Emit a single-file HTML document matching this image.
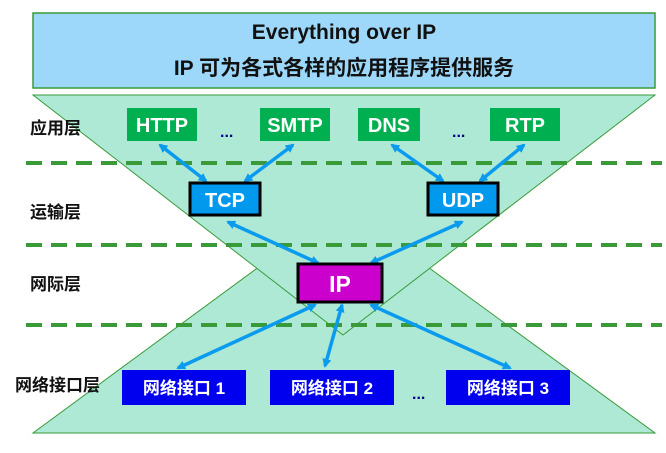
<!DOCTYPE html>
<html><head><meta charset="utf-8"><style>
body{margin:0;background:#fff;}
.t{font-family:"Liberation Sans","Noto Sans CJK SC",sans-serif;font-weight:bold;}
</style></head><body>
<svg width="666" height="448" viewBox="0 0 666 448" xmlns="http://www.w3.org/2000/svg">
<defs>
<marker id="a" markerWidth="9" markerHeight="9" refX="7" refY="4.5" orient="auto-start-reverse" markerUnits="userSpaceOnUse" viewBox="0 0 9 9"><path d="M0,0 L9,4.5 L0,9 z" fill="#0a9aee"/></marker>
</defs>
<rect x="33" y="13" width="622" height="75" fill="#9dd8fa" stroke="#3a9a3a" stroke-width="1.5"/>
<text x="344" y="39" class="t" font-size="21" text-anchor="middle" fill="#111">Everything over IP</text>
<text x="344" y="75" class="t" font-size="21" text-anchor="middle" fill="#111">IP 可为各式各样的应用程序提供服务</text>
<polygon points="33,433 655,433 343,205" fill="#aee9d6" stroke="#3a9a3a" stroke-width="1"/>
<polygon points="33,95 655,95 343,335" fill="#aee9d6" stroke="#3a9a3a" stroke-width="1"/>
<g stroke="#3a9a3a" stroke-width="4" stroke-dasharray="16,9">
<line x1="26" y1="163" x2="662" y2="163"/>
<line x1="26" y1="245" x2="662" y2="245"/>
<line x1="26" y1="325" x2="662" y2="325"/>
</g>
<g class="t" font-size="17" fill="#111">
<text x="30" y="134">应用层</text>
<text x="30" y="218">运输层</text>
<text x="30" y="290">网际层</text>
<text x="15" y="391">网络接口层</text>
</g>
<g fill="#00b050"><rect x="127" y="108" width="70" height="33"/><rect x="260" y="108" width="70" height="33"/><rect x="358" y="108" width="62" height="33"/><rect x="490" y="108" width="70" height="33"/></g>
<g class="t" font-size="20" fill="#fff" text-anchor="middle">
<text x="162" y="132">HTTP</text><text x="295" y="132">SMTP</text><text x="389" y="132">DNS</text><text x="525" y="132">RTP</text>
</g>
<g class="t" font-size="16" fill="#00008b"><text x="220" y="137">...</text><text x="452" y="137">...</text><text x="412" y="399">...</text></g>
<g stroke="#0a9aee" stroke-width="3.5" marker-start="url(#a)" marker-end="url(#a)">
<line x1="160" y1="145" x2="206" y2="181"/>
<line x1="293" y1="145" x2="245" y2="181"/>
<line x1="392" y1="145" x2="443" y2="181"/>
<line x1="524" y1="145" x2="480" y2="181"/>
<line x1="228" y1="222" x2="318" y2="263"/>
<line x1="462" y1="222" x2="371" y2="263"/>
<line x1="315" y1="305" x2="178" y2="368"/>
<line x1="342" y1="305" x2="325" y2="366"/>
<line x1="371" y1="305" x2="510" y2="368"/>
</g>
<rect x="190" y="183" width="70" height="32" fill="#0099ee" stroke="#000" stroke-width="3"/>
<rect x="428" y="183" width="70" height="32" fill="#0099ee" stroke="#000" stroke-width="3"/>
<text x="225" y="207" class="t" font-size="20" fill="#fff" text-anchor="middle">TCP</text>
<text x="463" y="207" class="t" font-size="20" fill="#fff" text-anchor="middle">UDP</text>
<rect x="298" y="264" width="84" height="38" fill="#cc00cc" stroke="#000" stroke-width="3"/>
<text x="340" y="292" class="t" font-size="23" fill="#fff" text-anchor="middle">IP</text>
<g fill="#0000ee"><rect x="122" y="370" width="124" height="35"/><rect x="270" y="370" width="124" height="35"/><rect x="446" y="370" width="124" height="35"/></g>
<g class="t" font-size="17" fill="#fff" text-anchor="middle">
<text x="184" y="394">网络接口 1</text><text x="332" y="394">网络接口 2</text><text x="508" y="394">网络接口 3</text>
</g>
</svg>
</body></html>
